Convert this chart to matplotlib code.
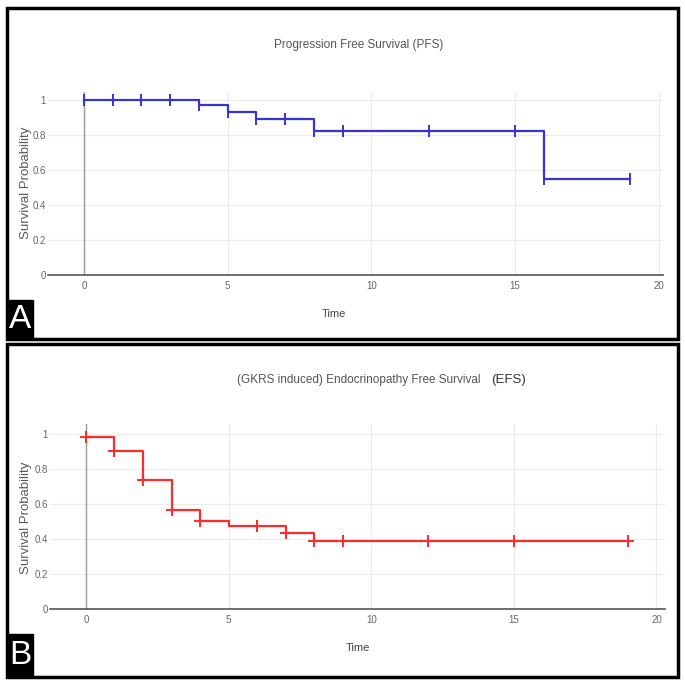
import matplotlib
matplotlib.use("Agg")
import matplotlib.pyplot as plt
from matplotlib import font_manager
from matplotlib.patches import Rectangle
import numpy as np

# progression free survival (PFS)
pfs_time = [0, 4, 5, 6, 8, 16, 19]
pfs_surv = [1.0, 0.97, 0.93, 0.893, 0.825, 0.55, 0.55]
pfs_censored = [0, 1, 2, 3, 4, 5, 6, 7, 8, 9, 12, 15, 16, 19]

# endocrinopathy free survival (EFS)
efs_time = [0, 1, 2, 3, 4, 5, 7, 8, 19]
efs_surv = [0.985, 0.90, 0.735, 0.568, 0.505, 0.472, 0.436, 0.388, 0.388]
efs_censored = [0, 1, 2, 3, 4, 6, 7, 8, 9, 12, 15, 19]

x_ticks = [0, 5, 10, 15, 20]
y_ticks = [0, 0.2, 0.4, 0.6, 0.8, 1]
y_ticklabels = ["0", "0.2", "0.4", "0.6", "0.8", "1"]

names = {f.name for f in font_manager.fontManager.ttflist}
narrow = "Liberation Sans Narrow" if "Liberation Sans Narrow" in names else "Liberation Sans"

W = H = 685
fig = plt.figure(figsize=(6.85, 6.85), dpi=100)


def box(x0, y0, x1, y1):
    # pixel box (top-left origin) -> figure fraction rect
    return [x0 / W, 1 - y1 / H, (x1 - x0) / W, (y1 - y0) / H]


def step_value(times, surv, t):
    i = np.searchsorted(times, t, side="right") - 1
    return np.asarray(surv)[i]


def km_panel(rect, times, surv, censored, color, marker, msize, xlim, ylim):
    ax = fig.add_axes(box(*rect))
    ax.set_facecolor("none")
    ax.step(times, surv, where="post", color=color, lw=1.6, zorder=3)
    ax.plot(censored, step_value(times, surv, censored), ls="none",
            marker=marker, ms=msize, mew=1.4, color=color, zorder=4)
    ax.set_xlim(*xlim)
    ax.set_ylim(*ylim)
    ax.set_xticks(x_ticks)
    ax.set_yticks(y_ticks, y_ticklabels)
    ax.grid(color="#ececec", lw=0.8)
    ax.set_axisbelow(True)
    ax.axvline(0, color="#9a9a9a", lw=1, zorder=2)
    for s in ["top", "right", "left"]:
        ax.spines[s].set_visible(False)
    ax.spines["bottom"].set_color("#555555")
    ax.spines["bottom"].set_linewidth(1.2)
    ax.tick_params(axis="x", length=0, labelsize=7, labelcolor="#666666", pad=4)
    ax.tick_params(axis="y", length=0, labelsize=7, labelcolor="#666666", pad=1.5)
    for lab in ax.get_xticklabels() + ax.get_yticklabels():
        lab.set_fontfamily(narrow)
    return ax


km_panel((48, 92, 663, 275), pfs_time, pfs_surv, pfs_censored,
         "#3535d5", "|", 9, (-1.25, 20.15), (0, 1.046))
km_panel((50, 424, 665, 609), efs_time, efs_surv, efs_censored,
         "#ff2a2a", "+", 9, (-1.26, 20.3), (0, 1.057))

# panel frames and letter boxes
for r in [(7, 8, 678, 339), (7, 344, 678, 677)]:
    x, y, w, h = box(*r)
    fig.patches.append(Rectangle((x, y), w, h, transform=fig.transFigure,
                                 fill=False, ec="black", lw=2.5))
for r, letter in [((7, 300, 33, 339), "A"), ((7, 634, 33, 677), "B")]:
    x, y, w, h = box(*r)
    fig.patches.append(Rectangle((x, y), w, h, transform=fig.transFigure,
                                 fc="black", ec="black", lw=1))
    fig.text(x + w / 2, y + h / 2, letter, color="white", fontsize=24,
             family=narrow, ha="center", va="center")

# titles
fig.text(359 / W, 1 - 45 / H, "Progression Free Survival (PFS)", fontsize=8.5,
         color="#555555", family=narrow, ha="center", va="center")
fig.text(237 / W, 1 - 380 / H, "(GKRS induced) Endocrinopathy Free Survival",
         fontsize=8.5, color="#555555", family=narrow, ha="left", va="center")
fig.text(491 / W, 1 - 380 / H, "(EFS)", fontsize=9.5, color="#333333",
         family=narrow, ha="left", va="center")

# axis labels
for y in [183, 518]:
    fig.text(26 / W, 1 - y / H, "Survival Probability", rotation=90, fontsize=9.5,
             color="#5a5a5a", family="Liberation Sans", ha="center", va="center")
fig.text(334 / W, 1 - 314 / H, "Time", fontsize=8, color="#444444",
         family=narrow, ha="center", va="center")
fig.text(358 / W, 1 - 648 / H, "Time", fontsize=8, color="#444444",
         family=narrow, ha="center", va="center")

fig.savefig("out.png", dpi=100)
